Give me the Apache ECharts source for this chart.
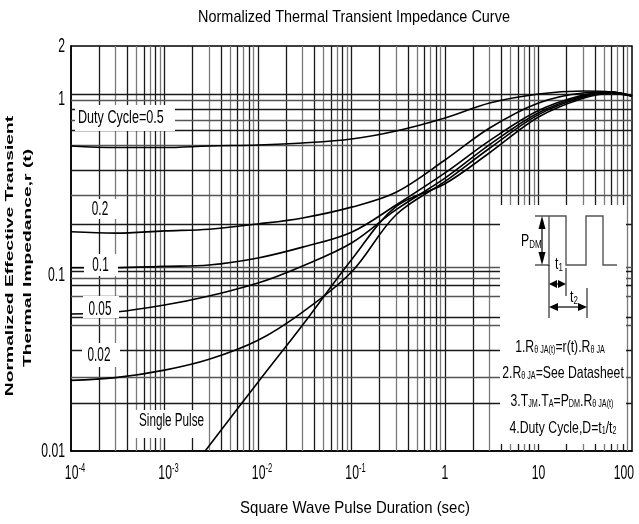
<!DOCTYPE html>
<html><head><meta charset="utf-8">
<script src="https://cdn.jsdelivr.net/npm/echarts@6/dist/echarts.min.js"></script>
<style>html,body{margin:0;padding:0;background:#fff}#c{width:639px;height:524px}</style>
</head><body><div id="c"></div>
<script>
// ---- data ----
const pulseT  = [1e-4, 3e-4, 1e-3, 3e-3, 1e-2, 3e-2, 0.1, 0.3, 1, 3, 10, 30, 60, 100];
const duty05  = [0.541, 0.530, 0.530, 0.541, 0.548, 0.562, 0.592, 0.658, 0.780, 0.949, 1.068, 1.110, 1.096, 1.040];
const duty02  = [0.176, 0.173, 0.178, 0.182, 0.195, 0.211, 0.243, 0.295, 0.450, 0.684, 0.949, 1.082, 1.096, 1.040];
const duty01  = [0.110, 0.110, 0.112, 0.114, 0.125, 0.144, 0.175, 0.250, 0.380, 0.580, 0.860, 1.054, 1.096, 1.040];
const duty005 = [0.060, 0.0616, 0.0675, 0.076, 0.090, 0.1126, 0.152, 0.235, 0.355, 0.550, 0.835, 1.040, 1.090, 1.040];
const duty002 = [0.0252, 0.0261, 0.0288, 0.0332, 0.0426, 0.0616, 0.104, 0.220, 0.340, 0.525, 0.815, 1.026, 1.082, 1.040];
const singleT = [2.72e-3, 1e-2, 3e-2, 0.1, 0.3, 1, 3, 10, 30, 60, 100];
const singleP = [0.01, 0.0246, 0.052, 0.122, 0.245, 0.330, 0.495, 0.790, 1.010, 1.075, 1.040];
const xTickValues = [1e-4, 1e-3, 1e-2, 1e-1, 1, 10, 100];
const xTickBase = ['10', '10', '10', '10', '1', '10', '100'];
const xTickExp = ['-4', '-3', '-2', '-1', '', '', ''];
const yTickValues = [0.01, 0.1, 1, 2];
const yTickLabels = ['0.01', '0.1', '1', '2'];
const xGridMultipliers = [2, 3, 4, 5, 6, 7, 8, 9];
const xGridDecades = [1e-4, 1e-3, 1e-2, 1e-1, 1, 10];
const yGridValues = [1.068, 0.987, 0.877, 0.760, 0.667, 0.548, 0.395, 0.285, 0.195,
  0.1105, 0.1057, 0.0959, 0.0878, 0.0760, 0.0578, 0.0519, 0.0374, 0.0263, 0.0187];

// ---- build ----
const FN = '"Liberation Sans", Arial, sans-serif';
const zip = (xs, ys) => xs.map((x, i) => [x, ys[i]]);
const darkV = [], lightV = [];
xGridDecades.forEach(d => {
  if (d > 1e-4) darkV.push({coords: [[d, 0.01], [d, 2]]});
  xGridMultipliers.forEach((m, i) => (i % 2 ? lightV : darkV).push({coords: [[d * m, 0.01], [d * m, 2]]}));
});
const darkH = [], lightH = [];
yGridValues.forEach((v, i) => (i % 2 ? lightH : darkH).push({coords: [[1e-4, v], [100, v]]}));

function curve(name, xs, ys) {
  return {name, type: 'line', data: zip(xs, ys), smooth: 0.35, symbol: 'none', z: 5, silent: true,
    lineStyle: {color: '#000', width: 1.6}};
}
function gridLines(data, color) {
  return {type: 'lines', coordinateSystem: 'cartesian2d', polyline: false, silent: true, z: 1,
    lineStyle: {color, width: 1.3, opacity: 1}, data};
}
function txt(x, y, text, size, sx, align, extra) {
  const el = {type: 'text', x, y, scaleX: sx, z: 60, silent: true,
    style: {text, fontFamily: FN, fontSize: size, fill: '#000', align: align || 'center', verticalAlign: 'middle'}};
  if (extra) { Object.assign(el.style, extra.style || {}); if (extra.rotation) el.rotation = extra.rotation; }
  return el;
}
function box(x, y, w, h) {
  return {type: 'rect', x, y, z: 55, silent: true, shape: {width: w, height: h}, style: {fill: '#fff'}};
}
const ln = (x1, y1, x2, y2, c, w) => ({type: 'line', z: 70, silent: true, shape: {x1, y1, x2, y2}, style: {stroke: c || '#000', lineWidth: w || 1.2}});
const tri = (pts) => ({type: 'polygon', z: 70, silent: true, shape: {points: pts}, style: {fill: '#000'}});
const pl = (pts) => ({type: 'polyline', z: 70, silent: true, shape: {points: pts}, style: {stroke: '#555', lineWidth: 1.4, fill: null}});
const subRich = (m, s) => ({m: {fontFamily: FN, fontSize: m}, s: {fontFamily: FN, fontSize: s, padding: [7, 0, 0, 0]}});
const rt = (x, y, text, align, m, s) => ({type: 'text', x, y, scaleX: 0.72, z: 70, silent: true,
  style: {text, align: align || 'left', verticalAlign: 'middle', fill: '#000', rich: subRich(m, s)}});

const chart = echarts.init(document.getElementById('c'), null, {renderer: 'canvas'});
chart.setOption({
  animation: false,
  backgroundColor: '#fff',
  grid: {left: 71, right: 7, top: 46, bottom: 73, show: true, borderColor: '#000', borderWidth: 1.5, outerBoundsMode: 'none', containLabel: false},
  xAxis: {type: 'log', logBase: 10, min: 1e-4, max: 100,
    axisLine: {lineStyle: {color: '#000', width: 1.5}}, axisTick: {show: false}, splitLine: {show: false}, axisLabel: {show: false}},
  yAxis: {type: 'log', logBase: 10, min: 0.01, max: 2,
    axisLine: {lineStyle: {color: '#000', width: 1.5}}, axisTick: {show: false}, splitLine: {show: false}, axisLabel: {show: false}},
  series: [
    gridLines(lightV, '#7a7a7a'), gridLines(darkV, '#1a1a1a'),
    gridLines(lightH, '#555'), gridLines(darkH, '#1a1a1a'),
    curve('D=0.5', pulseT, duty05),
    curve('D=0.2', pulseT, duty02),
    curve('D=0.1', pulseT, duty01),
    curve('D=0.05', pulseT, duty005),
    curve('D=0.02', pulseT, duty002),
    curve('Single Pulse', singleT, singleP)
  ]
});

// tick labels placed through the axes' own scales
const gfx = [];
xTickValues.forEach((v, i) => {
  const px = chart.convertToPixel({xAxisIndex: 0}, v);
  const last = i === xTickValues.length - 1;
  const text = xTickExp[i] ? '{b|' + xTickBase[i] + '}{s|' + xTickExp[i] + '}' : '{b|' + xTickBase[i] + '}';
  gfx.push({type: 'text', x: last ? px + 2 : px + (xTickExp[i] ? 4 : 0), y: 473, scaleX: 0.58, z: 60, silent: true,
    style: {text, align: last ? 'right' : 'center', verticalAlign: 'middle', fill: '#000',
      rich: {b: {fontFamily: FN, fontSize: 21, verticalAlign: 'bottom', lineHeight: 22},
             s: {fontFamily: FN, fontSize: 13, verticalAlign: 'top', lineHeight: 22, padding: [0, 0, 9, 0]}}}});
});
yTickValues.forEach((v, i) => {
  const py = chart.convertToPixel({yAxisIndex: 0}, v);
  gfx.push(txt(65, py, yTickLabels[i], 21, 0.58, 'right'));
});

gfx.push(
  txt(354, 17, 'Normalized Thermal Transient Impedance Curve', 17, 0.85),
  txt(355, 508, 'Square Wave Pulse Duration (sec)', 17, 0.88),
  txt(10, 256, 'Normalized Effective Transient', 11, 1.75, 'center', {rotation: Math.PI / 2, style: {fontWeight: 'bold'}}),
  txt(28, 258, 'Thermal Impedance,r (t)', 11, 1.75, 'center', {rotation: Math.PI / 2, style: {fontWeight: 'bold'}}),
  box(75, 105, 100, 26), txt(78, 118, 'Duty Cycle=0.5', 18, 0.7, 'left'),
  box(88, 199, 30, 20), txt(100, 209, '0.2', 21, 0.56),
  box(84, 254, 34, 22), txt(100.5, 265, '0.1', 21, 0.56),
  box(83, 296, 36, 22), txt(100, 309.5, '0.05', 21, 0.56),
  box(82, 343, 38, 24), txt(99, 355, '0.02', 21, 0.56),
  box(132, 410, 76, 28), txt(171.5, 421, 'Single Pulse', 18, 0.65),
  box(500, 205, 126, 239),
  pl([[535, 216], [566, 216], [566, 265], [586, 265], [586, 216], [603, 216], [603, 265], [617, 265]]),
  pl([[535, 265], [549, 265], [549, 216]]),
  ln(542, 222, 542, 259), tri([[542, 216], [538.5, 229], [545.5, 229]]), tri([[542, 265], [538.5, 252], [545.5, 252]]),
  ln(549, 265, 549, 318, '#000', 1), ln(566, 268, 566, 296, '#000', 1), ln(587, 288, 587, 318, '#000', 1),
  ln(554, 284, 561, 284), tri([[549, 284], [557, 280], [557, 288]]), tri([[566, 284], [558, 280], [558, 288]]),
  ln(555, 307, 581, 307), tri([[549, 307], [558, 303], [558, 311]]), tri([[587, 307], [578, 303], [578, 311]]),
  rt(521, 241, '{m|P}{s|DM}', 'left', 17, 11),
  rt(555, 264, '{m|t}{s|1}', 'left', 17, 11),
  rt(570, 297, '{m|t}{s|2}', 'left', 17, 11),
  rt(560, 347, '{m|1.R}{s|θ JA(t)}{m|=r(t).R}{s|θ JA}', 'center', 17, 10),
  rt(563, 373, '{m|2.R}{s|θ JA}{m|=See Datasheet}', 'center', 17, 10),
  rt(562, 401, '{m|3.T}{s|JM}{m|.T}{s|A}{m|=P}{s|DM}{m|.R}{s|θ JA(t)}', 'center', 17, 10),
  rt(563, 428, '{m|4.Duty Cycle,D=t}{s|1}{m|/t}{s|2}', 'center', 17, 10)
);
chart.setOption({graphic: gfx});
</script></body></html>
